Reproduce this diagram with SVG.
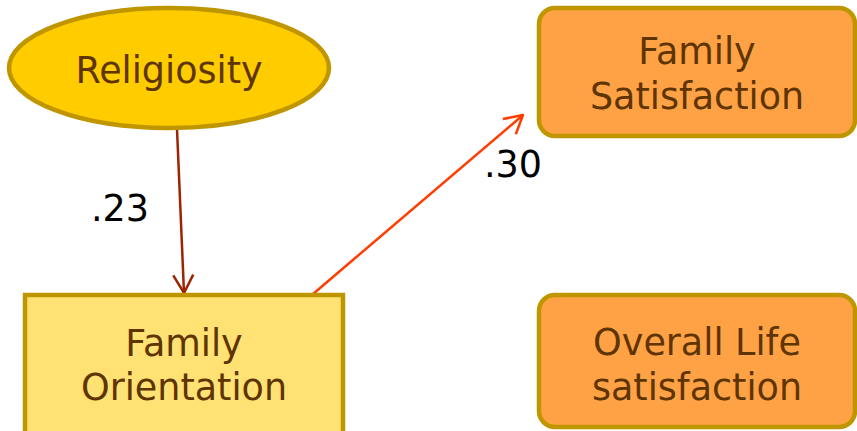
<svg xmlns="http://www.w3.org/2000/svg" width="857" height="431" viewBox="0 0 857 431">
<defs>
<style>
.lbl{font-family:"DejaVu Sans","Verdana",sans-serif;font-size:36.5px;fill:#5E3400;text-anchor:middle}
.num{font-family:"DejaVu Sans","Verdana",sans-serif;font-size:36.5px;fill:#000;text-anchor:middle}
.node{stroke:#BF9600;stroke-width:4.5}
</style>
<marker id="ah1" viewBox="0 0 20 24" refX="19" refY="12" markerWidth="20" markerHeight="24" markerUnits="userSpaceOnUse" orient="auto">
<path d="M1,2 L19,12 L1,22" fill="none" stroke="#9E2400" stroke-width="2.5"/>
</marker>
<marker id="ah2" viewBox="0 0 20 24" refX="19" refY="12" markerWidth="20" markerHeight="24" markerUnits="userSpaceOnUse" orient="auto">
<path d="M1,2 L19,12 L1,22" fill="none" stroke="#FF3D00" stroke-width="2.5"/>
</marker>
</defs>
<rect width="857" height="431" fill="#fff"/>
<g id="connectors">
<line x1="177" y1="129" x2="184" y2="293" stroke="#9E2400" stroke-width="2.5" marker-end="url(#ah1)"/>
<line x1="313" y1="294" x2="523" y2="115" stroke="#FF3D00" stroke-width="2.5" marker-end="url(#ah2)"/>
<text class="num" x="120" y="221">.23</text>
<text class="num" x="513" y="177">.30</text>
</g>
<g id="religiosity">
<ellipse class="node" cx="169" cy="68" rx="160" ry="60" fill="#FFCC00"/>
<text class="lbl" x="169" y="83">Religiosity</text>
</g>
<g id="family-orientation">
<rect class="node" x="25" y="295" width="318" height="145" fill="#FFE174"/>
<text class="lbl" x="184" y="356">Family</text>
<text class="lbl" x="184" y="400">Orientation</text>
</g>
<g id="family-satisfaction">
<rect class="node" x="539" y="8" width="316" height="128" rx="16" fill="#FFA245"/>
<text class="lbl" x="697" y="64">Family</text>
<text class="lbl" x="697" y="109">Satisfaction</text>
</g>
<g id="overall-life-satisfaction">
<rect class="node" x="539" y="295" width="316" height="132" rx="16" fill="#FFA245"/>
<text class="lbl" x="697" y="355">Overall Life</text>
<text class="lbl" x="697" y="400">satisfaction</text>
</g>
</svg>
